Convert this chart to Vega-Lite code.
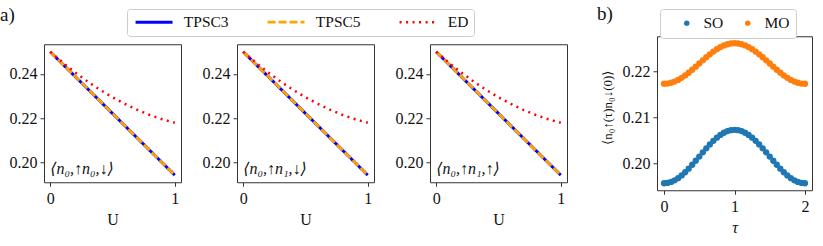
{
  "$schema": "https://vega.github.io/schema/vega-lite/v6.json",
  "padding": {"left": -1, "top": 4, "right": 5, "bottom": 5},
  "config": {
    "font": "Liberation Serif, Times New Roman, Times, DejaVu Serif, serif",
    "view": {"stroke": "#333333", "strokeWidth": 1},
    "text": {"font": "Liberation Serif, Times New Roman, Times, DejaVu Serif, serif"},
    "axis": {
      "domain": false, "grid": false, "tickColor": "#333333", "tickSize": 4,
      "labelFont": "Liberation Serif, Times New Roman, Times, DejaVu Serif, serif", "labelFontSize": 16, "labelColor": "#111111", "labelPadding": 3,
      "labelFlush": false, "labelOverlap": false,
      "titleFont": "Liberation Serif, Times New Roman, Times, DejaVu Serif, serif", "titleFontSize": 16, "titleFontWeight": "normal", "titleColor": "#111111"
    },
    "axisX": {"labelPadding": 4, "titlePadding": 5},
    "legend": {
      "strokeColor": "#cccccc", "fillColor": "#ffffff", "cornerRadius": 3,
      "labelFont": "Liberation Serif, Times New Roman, Times, DejaVu Serif, serif", "labelFontSize": 15.5, "labelColor": "#111111", "labelFontWeight": "normal"
    },
    "title": {"font": "Liberation Serif, Times New Roman, Times, DejaVu Serif, serif", "fontSize": 19, "fontWeight": "normal", "color": "#111111", "anchor": "start", "frame": "group"}
  },
  "datasets": {
    "lines": [
      {"series": "TPSC3", "U": 0, "v": 0.25},
      {"series": "TPSC3", "U": 1, "v": 0.1944},
      {"series": "TPSC5", "U": 0, "v": 0.25},
      {"series": "TPSC5", "U": 1, "v": 0.1944},
      {"series": "ED", "U": 0, "v": 0.25},
      {"series": "ED", "U": 0.1, "v": 0.24518},
      {"series": "ED", "U": 0.2, "v": 0.24072},
      {"series": "ED", "U": 0.3, "v": 0.23662},
      {"series": "ED", "U": 0.4, "v": 0.23288},
      {"series": "ED", "U": 0.5, "v": 0.2295},
      {"series": "ED", "U": 0.6, "v": 0.22648},
      {"series": "ED", "U": 0.7, "v": 0.22382},
      {"series": "ED", "U": 0.8, "v": 0.22152},
      {"series": "ED", "U": 0.9, "v": 0.21958},
      {"series": "ED", "U": 1.0, "v": 0.218}
    ],
    "tau": [
      {"t": 0, "SO": 0.1957, "MO": 0.2173},
      {"t": 0.05, "SO": 0.19577, "MO": 0.21735},
      {"t": 0.1, "SO": 0.19598, "MO": 0.21752},
      {"t": 0.15, "SO": 0.19633, "MO": 0.21778},
      {"t": 0.2, "SO": 0.19681, "MO": 0.21814},
      {"t": 0.25, "SO": 0.1974, "MO": 0.21859},
      {"t": 0.3, "SO": 0.19809, "MO": 0.21911},
      {"t": 0.35, "SO": 0.19887, "MO": 0.2197},
      {"t": 0.4, "SO": 0.19971, "MO": 0.22034},
      {"t": 0.45, "SO": 0.20059, "MO": 0.22101},
      {"t": 0.5, "SO": 0.2015, "MO": 0.2217},
      {"t": 0.55, "SO": 0.20241, "MO": 0.22239},
      {"t": 0.6, "SO": 0.20329, "MO": 0.22306},
      {"t": 0.65, "SO": 0.20413, "MO": 0.2237},
      {"t": 0.7, "SO": 0.20491, "MO": 0.22429},
      {"t": 0.75, "SO": 0.2056, "MO": 0.22481},
      {"t": 0.8, "SO": 0.20619, "MO": 0.22526},
      {"t": 0.85, "SO": 0.20667, "MO": 0.22562},
      {"t": 0.9, "SO": 0.20702, "MO": 0.22588},
      {"t": 0.95, "SO": 0.20723, "MO": 0.22605},
      {"t": 1.0, "SO": 0.2073, "MO": 0.2261},
      {"t": 1.05, "SO": 0.20723, "MO": 0.22605},
      {"t": 1.1, "SO": 0.20702, "MO": 0.22588},
      {"t": 1.15, "SO": 0.20667, "MO": 0.22562},
      {"t": 1.2, "SO": 0.20619, "MO": 0.22526},
      {"t": 1.25, "SO": 0.2056, "MO": 0.22481},
      {"t": 1.3, "SO": 0.20491, "MO": 0.22429},
      {"t": 1.35, "SO": 0.20413, "MO": 0.2237},
      {"t": 1.4, "SO": 0.20329, "MO": 0.22306},
      {"t": 1.45, "SO": 0.20241, "MO": 0.22239},
      {"t": 1.5, "SO": 0.2015, "MO": 0.2217},
      {"t": 1.55, "SO": 0.20059, "MO": 0.22101},
      {"t": 1.6, "SO": 0.19971, "MO": 0.22034},
      {"t": 1.65, "SO": 0.19887, "MO": 0.2197},
      {"t": 1.7, "SO": 0.19809, "MO": 0.21911},
      {"t": 1.75, "SO": 0.1974, "MO": 0.21859},
      {"t": 1.8, "SO": 0.19681, "MO": 0.21814},
      {"t": 1.85, "SO": 0.19633, "MO": 0.21778},
      {"t": 1.9, "SO": 0.19598, "MO": 0.21752},
      {"t": 1.95, "SO": 0.19577, "MO": 0.21735},
      {"t": 2.0, "SO": 0.1957, "MO": 0.2173}
    ]
  },
  "spacing": 28,
  "center": true,
  "hconcat": [
    {
      "spacing": 19,
      "hconcat": [
        {
          "width": 137, "height": 138,
          "title": {"text": "a)", "dx": -44, "offset": 19},
          "layer": [
            {
              "data": {"name": "lines"},
              "mark": {"type": "line"},
              "encoding": {
                "x": {"field": "U", "type": "quantitative", "scale": {"domain": [-0.05, 1.05], "nice": false, "zero": false}, "axis": {"values": [0, 1], "format": "d", "title": "U"}},
                "y": {"field": "v", "type": "quantitative", "scale": {"domain": [0.1912, 0.2534], "nice": false, "zero": false}, "axis": {"values": [0.2, 0.22, 0.24], "format": ".2f", "title": null}},
                "stroke": {"field": "series", "type": "nominal", "scale": {"domain": ["TPSC3", "TPSC5", "ED"], "range": ["#0000ff", "#ffa500", "#ff0000"]},
                  "legend": {"orient": "none", "legendX": 83, "legendY": -27, "direction": "horizontal", "title": null, "symbolType": "M-4.42,0H4.42", "symbolSize": 70, "symbolStrokeWidth": 3, "symbolOffset": 14.3, "labelOffset": 22, "columnPadding": 33, "padding": 5}},
                "strokeDash": {"field": "series", "type": "nominal", "scale": {"domain": ["TPSC3", "TPSC5", "ED"], "range": [[1, 0], [8, 3], [2, 4.5]]},
                  "legend": {"orient": "none", "legendX": 83, "legendY": -27, "direction": "horizontal", "title": null, "symbolType": "M-4.42,0H4.42", "symbolSize": 70, "symbolStrokeWidth": 3, "symbolOffset": 14.3, "labelOffset": 22, "columnPadding": 33, "padding": 5}},
                "strokeWidth": {"field": "series", "type": "nominal", "scale": {"domain": ["TPSC3", "TPSC5", "ED"], "range": [3, 2.5, 2]}, "legend": null}
              }
            },
            {
              "data": {"values": [{"label": "⟨n₀,↑n₀,↓⟩"}]},
              "mark": {"type": "text", "align": "left", "baseline": "alphabetic", "fontSize": 16, "fontStyle": "italic", "color": "#111111"},
              "encoding": {"x": {"datum": 0}, "y": {"datum": 0.1948}, "text": {"field": "label"}}
            }
          ]
        },
        {
          "width": 137, "height": 138,
          "layer": [
            {
              "data": {"name": "lines"},
              "mark": {"type": "line"},
              "encoding": {
                "x": {"field": "U", "type": "quantitative", "scale": {"domain": [-0.05, 1.05], "nice": false, "zero": false}, "axis": {"values": [0, 1], "format": "d", "title": "U"}},
                "y": {"field": "v", "type": "quantitative", "scale": {"domain": [0.1912, 0.2534], "nice": false, "zero": false}, "axis": {"values": [0.2, 0.22, 0.24], "format": ".2f", "title": null}},
                "stroke": {"field": "series", "type": "nominal", "scale": {"domain": ["TPSC3", "TPSC5", "ED"], "range": ["#0000ff", "#ffa500", "#ff0000"]},
                  "legend": {"orient": "none", "legendX": 83, "legendY": -27, "direction": "horizontal", "title": null, "symbolType": "M-4.42,0H4.42", "symbolSize": 70, "symbolStrokeWidth": 3, "symbolOffset": 14.3, "labelOffset": 22, "columnPadding": 33, "padding": 5}},
                "strokeDash": {"field": "series", "type": "nominal", "scale": {"domain": ["TPSC3", "TPSC5", "ED"], "range": [[1, 0], [8, 3], [2, 4.5]]},
                  "legend": {"orient": "none", "legendX": 83, "legendY": -27, "direction": "horizontal", "title": null, "symbolType": "M-4.42,0H4.42", "symbolSize": 70, "symbolStrokeWidth": 3, "symbolOffset": 14.3, "labelOffset": 22, "columnPadding": 33, "padding": 5}},
                "strokeWidth": {"field": "series", "type": "nominal", "scale": {"domain": ["TPSC3", "TPSC5", "ED"], "range": [3, 2.5, 2]}, "legend": null}
              }
            },
            {
              "data": {"values": [{"label": "⟨n₀,↑n₁,↓⟩"}]},
              "mark": {"type": "text", "align": "left", "baseline": "alphabetic", "fontSize": 16, "fontStyle": "italic", "color": "#111111"},
              "encoding": {"x": {"datum": 0}, "y": {"datum": 0.1948}, "text": {"field": "label"}}
            }
          ]
        },
        {
          "width": 137, "height": 138,
          "layer": [
            {
              "data": {"name": "lines"},
              "mark": {"type": "line"},
              "encoding": {
                "x": {"field": "U", "type": "quantitative", "scale": {"domain": [-0.05, 1.05], "nice": false, "zero": false}, "axis": {"values": [0, 1], "format": "d", "title": "U"}},
                "y": {"field": "v", "type": "quantitative", "scale": {"domain": [0.1912, 0.2534], "nice": false, "zero": false}, "axis": {"values": [0.2, 0.22, 0.24], "format": ".2f", "title": null}},
                "stroke": {"field": "series", "type": "nominal", "scale": {"domain": ["TPSC3", "TPSC5", "ED"], "range": ["#0000ff", "#ffa500", "#ff0000"]},
                  "legend": {"orient": "none", "legendX": 83, "legendY": -27, "direction": "horizontal", "title": null, "symbolType": "M-4.42,0H4.42", "symbolSize": 70, "symbolStrokeWidth": 3, "symbolOffset": 14.3, "labelOffset": 22, "columnPadding": 33, "padding": 5}},
                "strokeDash": {"field": "series", "type": "nominal", "scale": {"domain": ["TPSC3", "TPSC5", "ED"], "range": [[1, 0], [8, 3], [2, 4.5]]},
                  "legend": {"orient": "none", "legendX": 83, "legendY": -27, "direction": "horizontal", "title": null, "symbolType": "M-4.42,0H4.42", "symbolSize": 70, "symbolStrokeWidth": 3, "symbolOffset": 14.3, "labelOffset": 22, "columnPadding": 33, "padding": 5}},
                "strokeWidth": {"field": "series", "type": "nominal", "scale": {"domain": ["TPSC3", "TPSC5", "ED"], "range": [3, 2.5, 2]}, "legend": null}
              }
            },
            {
              "data": {"values": [{"label": "⟨n₀,↑n₁,↑⟩"}]},
              "mark": {"type": "text", "align": "left", "baseline": "alphabetic", "fontSize": 16, "fontStyle": "italic", "color": "#111111"},
              "encoding": {"x": {"datum": 0}, "y": {"datum": 0.1948}, "text": {"field": "label"}}
            }
          ]
        }
      ]
    },
    {
      "width": 155, "height": 154,
      "title": {"text": "b)", "dx": -60, "offset": 12},
      "data": {"name": "tau"},
      "transform": [{"fold": ["SO", "MO"], "as": ["orb", "val"]}],
      "mark": {"type": "circle", "size": 40, "opacity": 1},
      "encoding": {
        "x": {"field": "t", "type": "quantitative", "scale": {"domain": [-0.1, 2.1], "nice": false, "zero": false}, "axis": {"values": [0, 1, 2], "format": "d", "title": "τ", "titleFontStyle": "italic"}},
        "y": {"field": "val", "type": "quantitative", "scale": {"domain": [0.19418, 0.22762], "nice": false, "zero": false}, "axis": {"values": [0.2, 0.21, 0.22], "format": ".2f", "title": "⟨n₀↑(τ)n₀↓(0)⟩", "titleFontSize": 13, "titlePadding": 8, "titleY": 71}},
        "fill": {"field": "orb", "type": "nominal", "scale": {"domain": ["SO", "MO"], "range": ["#1f77b4", "#ff7f0e"]},
          "legend": {"orient": "none", "legendX": 616, "legendY": -27, "direction": "horizontal", "title": null, "symbolType": "circle", "symbolSize": 30, "symbolOffset": 13, "labelOffset": 9, "columnPadding": 3, "padding": 6}}
      }
    }
  ]
}
